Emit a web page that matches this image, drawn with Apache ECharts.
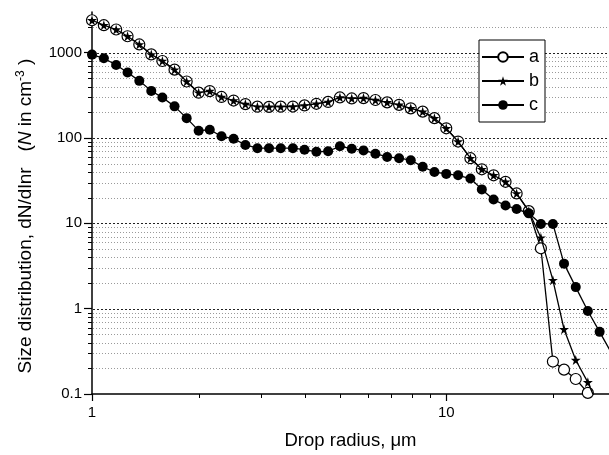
<!DOCTYPE html>
<html>
<head>
<meta charset="utf-8">
<script src="https://cdn.jsdelivr.net/npm/echarts@6/dist/echarts.min.js"></script>
<style>
html, body { margin: 0; padding: 0; background: #fff; }
#chart { width: 609px; height: 455px; }
</style>
</head>
<body>
<div id="chart"></div>
<script>
// drop radius, um (about 30 points per decade)
var radius = [1.00, 1.08, 1.17, 1.26, 1.36, 1.47, 1.58, 1.71, 1.85, 2.00,
  2.15, 2.32, 2.51, 2.71, 2.93, 3.16, 3.41, 3.69, 3.98, 4.30,
  4.64, 5.01, 5.41, 5.84, 6.31, 6.81, 7.36, 7.94, 8.58, 9.26,
  10.0, 10.8, 11.7, 12.6, 13.6, 14.7, 15.8, 17.1, 18.5, 20.0,
  21.5, 23.2, 25.1, 27.1, 29.3];

var sizeA = [2400, 2100, 1870, 1560, 1250, 955, 800, 633, 460, 340,
  355, 303, 275, 250, 233, 232, 233, 234, 241, 252,
  265, 299, 291, 294, 279, 262, 245, 223, 204, 171,
  130, 91, 58, 43, 36.6, 30.7, 22.4, 13.9, 5.1, 0.24,
  0.193, 0.15, 0.103];

var sizeB = [2400, 2100, 1870, 1560, 1250, 955, 800, 633, 460, 340,
  355, 303, 275, 250, 233, 232, 233, 234, 241, 252,
  265, 299, 291, 294, 279, 262, 245, 223, 204, 171,
  130, 91, 58, 43, 36.6, 30.7, 22.4, 13.9, 6.8, 2.16,
  0.574, 0.25, 0.137, 0.065];

var sizeC = [950, 860, 718, 585, 468, 357, 299, 235, 171, 122,
  125, 105, 98, 83, 76, 76, 76, 76, 73, 69,
  70, 80, 75, 71.5, 65.5, 60, 58, 55, 46, 40,
  38, 36.6, 33.5, 25, 19, 16.2, 14.7, 13.1, 9.85, 9.85,
  3.37, 1.79, 0.94, 0.535, 0.3];

var xMajor = [10];
var xMinor = [2, 3, 4, 5, 6, 7, 8, 9, 20];
var yMajor = [1, 10, 100, 1000];
var yMinor = [0.2, 0.3, 0.4, 0.5, 0.6, 0.7, 0.8, 0.9,
  2, 3, 4, 5, 6, 7, 8, 9,
  20, 30, 40, 50, 60, 70, 80, 90,
  200, 300, 400, 500, 600, 700, 800, 900, 2000];

var FONT = 'Liberation Sans, Arial, sans-serif';
var STAR = 'path://M50 2 L61 37 L98 37 L68 59 L79 95 L50 73 L21 95 L32 59 L2 37 L39 37 Z';

function pairs(ys) {
  var out = [];
  for (var i = 0; i < ys.length; i++) out.push([radius[i], ys[i]]);
  return out;
}

function tickText(v) { return String(+(+v).toPrecision(6)); }

var chart = echarts.init(document.getElementById('chart'));

chart.setOption({
  animation: false,
  backgroundColor: '#fff',
  textStyle: { fontFamily: FONT, color: '#000' },
  grid: { left: 92, top: 12, right: 0, bottom: 58, containLabel: false },
  legend: {
    data: ['a', 'b', 'c'],
    orient: 'vertical',
    left: 479,
    top: 40,
    padding: [8, 6, 8, 2],
    itemGap: 6,
    itemWidth: 42,
    itemHeight: 12,
    borderColor: '#000',
    borderWidth: 1,
    backgroundColor: '#fff',
    textStyle: { fontFamily: FONT, fontSize: 18, color: '#000' }
  },
  xAxis: {
    type: 'log',
    logBase: 10,
    min: 1,
    max: 28.8,
    name: 'Drop radius, \u03bcm',
    nameLocation: 'middle',
    nameGap: 37,
    nameTextStyle: { fontFamily: FONT, fontSize: 18.5, color: '#000' },
    axisLine: { lineStyle: { color: '#000', width: 1.5 } },
    axisTick: { inside: false, length: 7, lineStyle: { color: '#000', width: 1.2 } },
    axisLabel: {
      fontFamily: FONT, fontSize: 15, color: '#000', margin: 11,
      showMaxLabel: false,
      formatter: tickText
    },
    splitLine: { show: false }
  },
  yAxis: {
    type: 'log',
    logBase: 10,
    min: 0.1,
    max: 3000,
    name: 'Size distribution, dN/dlnr   ({i|N} in cm{sup|-3} )',
    nameLocation: 'middle',
    nameGap: 55,
    nameTextStyle: {
      fontFamily: FONT, fontSize: 19, color: '#000',
      padding: [0, 26, 0, 0],
      rich: {
        i: { fontFamily: FONT, fontSize: 19, fontStyle: 'italic', color: '#000' },
        sup: { fontFamily: FONT, fontSize: 12, color: '#000', padding: [0, 0, 10, 0] }
      }
    },
    axisLine: { lineStyle: { color: '#000', width: 1.5 } },
    axisTick: { inside: false, length: 8, lineStyle: { color: '#000', width: 1.2 } },
    axisLabel: {
      fontFamily: FONT, fontSize: 15, color: '#000', margin: 10,
      showMaxLabel: false,
      formatter: tickText
    },
    splitLine: { show: false }
  },
  series: [
    {
      name: 'a', type: 'line', data: pairs(sizeA), z: 3,
      symbol: 'circle', symbolSize: 11,
      itemStyle: { color: '#fff', borderColor: '#000', borderWidth: 1.2 },
      lineStyle: { color: '#000', width: 1.3 }
    },
    {
      name: 'b', type: 'line', data: pairs(sizeB), z: 4,
      symbol: STAR, symbolSize: 10,
      itemStyle: { color: '#000' },
      lineStyle: { color: '#000', width: 1.3 }
    },
    {
      name: 'c', type: 'line', data: pairs(sizeC), z: 5,
      symbol: 'circle', symbolSize: 10,
      itemStyle: { color: '#000' },
      lineStyle: { color: '#000', width: 1.3 }
    }
  ]
});

// grid lines and minor ticks, placed through the chart's own axes
// (added straight to zrender; the graphic component overflowed the stack)
var zr = chart.getZr();
function px(x, y) { return chart.convertToPixel({ gridIndex: 0 }, [x, y]); }

var c0 = px(1, 0.1);
var c1 = px(28.8, 3000);
var left = Math.round(c0[0]), bottom = Math.round(c0[1]);
var right = Math.round(c1[0]), top = Math.round(c1[1]);

function seg(x1, y1, x2, y2, color, dash) {
  var style = { stroke: color, lineWidth: 1 };
  if (dash) style.lineDash = dash;
  zr.add(new echarts.graphic.Line({
    silent: true,
    z: 0,
    shape: { x1: x1, y1: y1, x2: x2, y2: y2 },
    style: style
  }));
}

xMinor.forEach(function (v) {
  var x = Math.round(px(v, 1)[0]) + 0.5;
  seg(x, bottom - 1, x, top, '#9a9a9a', [1, 2]);
  seg(x, bottom, x, bottom + 4, '#000', null);
});
xMajor.forEach(function (v) {
  var x = Math.round(px(v, 1)[0]) + 0.5;
  seg(x, bottom - 1, x, top, '#222', [2, 2]);
});
yMinor.forEach(function (v) {
  var y = Math.round(px(1, v)[1]) + 0.5;
  seg(left + 1, y, right, y, '#9a9a9a', [1, 2]);
  seg(left - 4, y, left, y, '#000', null);
});
yMajor.forEach(function (v) {
  var y = Math.round(px(1, v)[1]) + 0.5;
  seg(left + 1, y, right, y, '#222', [2, 2]);
});
</script>
</body>
</html>
